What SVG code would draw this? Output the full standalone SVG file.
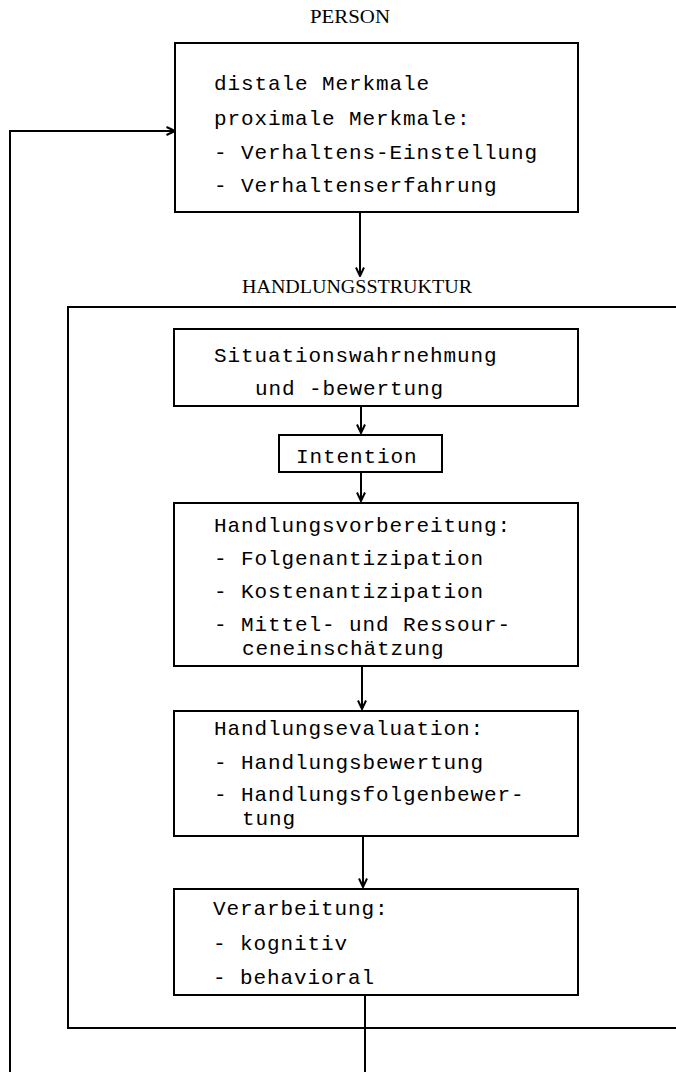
<svg xmlns="http://www.w3.org/2000/svg" width="676" height="1072" viewBox="0 0 676 1072">
<defs>
<style>
.box{fill:#fff;stroke:#000;stroke-width:2}
.ln{fill:none;stroke:#000;stroke-width:2}
.t{font-family:"Liberation Mono","DejaVu Sans Mono",monospace;font-size:21px;letter-spacing:0.9px;fill:#000}
.ti{font-family:"Liberation Serif","Times New Roman",serif;font-size:19px;fill:#000}
</style>
<marker id="ah" viewBox="0 0 10 10" refX="9.5" refY="5" markerWidth="10" markerHeight="10" markerUnits="userSpaceOnUse" orient="auto">
<path d="M1,1 L9.5,5 L1,9" fill="none" stroke="#000" stroke-width="2"/>
</marker>
</defs>
<rect width="676" height="1072" fill="#fff"/>
<g id="title-person"><text class="ti" x="310" y="23" textLength="80" lengthAdjust="spacingAndGlyphs">PERSON</text></g>
<g id="title-handlung"><text class="ti" x="242" y="293" textLength="230" lengthAdjust="spacingAndGlyphs">HANDLUNGSSTRUKTUR</text></g>
<g id="handlungsstruktur"><path class="ln" d="M677,307 H68 V1028 H677"/></g>
<g id="person">
<rect class="box" x="175" y="43" width="403" height="169"/>
<text class="t" x="214" y="90">distale Merkmale</text>
<text class="t" x="214" y="125">proximale Merkmale:</text>
<text class="t" x="214" y="159">- Verhaltens-Einstellung</text>
<text class="t" x="214" y="192">- Verhaltenserfahrung</text>
</g>
<g id="situation">
<rect class="box" x="174" y="329" width="404" height="77"/>
<text class="t" x="214" y="362">Situationswahrnehmung</text>
<text class="t" x="255" y="395">und -bewertung</text>
</g>
<g id="intention">
<rect class="box" x="279" y="435" width="163" height="37"/>
<text class="t" x="296" y="463">Intention</text>
</g>
<g id="vorbereitung">
<rect class="box" x="174" y="503" width="404" height="163"/>
<text class="t" x="214" y="532">Handlungsvorbereitung:</text>
<text class="t" x="214" y="565">- Folgenantizipation</text>
<text class="t" x="214" y="598">- Kostenantizipation</text>
<text class="t" x="214" y="631">- Mittel- und Ressour-</text>
<text class="t" x="242" y="655">ceneinschätzung</text>
</g>
<g id="evaluation">
<rect class="box" x="174" y="711" width="404" height="125"/>
<text class="t" x="214" y="735">Handlungsevaluation:</text>
<text class="t" x="214" y="769">- Handlungsbewertung</text>
<text class="t" x="214" y="801">- Handlungsfolgenbewer-</text>
<text class="t" x="242" y="825">tung</text>
</g>
<g id="verarbeitung">
<rect class="box" x="174" y="889" width="404" height="106"/>
<text class="t" x="213" y="915">Verarbeitung:</text>
<text class="t" x="213" y="950">- kognitiv</text>
<text class="t" x="213" y="984">- behavioral</text>
</g>
<g id="connectors">
<path class="ln" d="M10,1072 V131 H175" marker-end="url(#ah)"/>
<path class="ln" d="M360,212 V276" marker-end="url(#ah)"/>
<path class="ln" d="M361,406 V433" marker-end="url(#ah)"/>
<path class="ln" d="M361,472 V501" marker-end="url(#ah)"/>
<path class="ln" d="M362,666 V709" marker-end="url(#ah)"/>
<path class="ln" d="M363,836 V887" marker-end="url(#ah)"/>
<path class="ln" d="M365,995 V1072"/>
</g>
</svg>
